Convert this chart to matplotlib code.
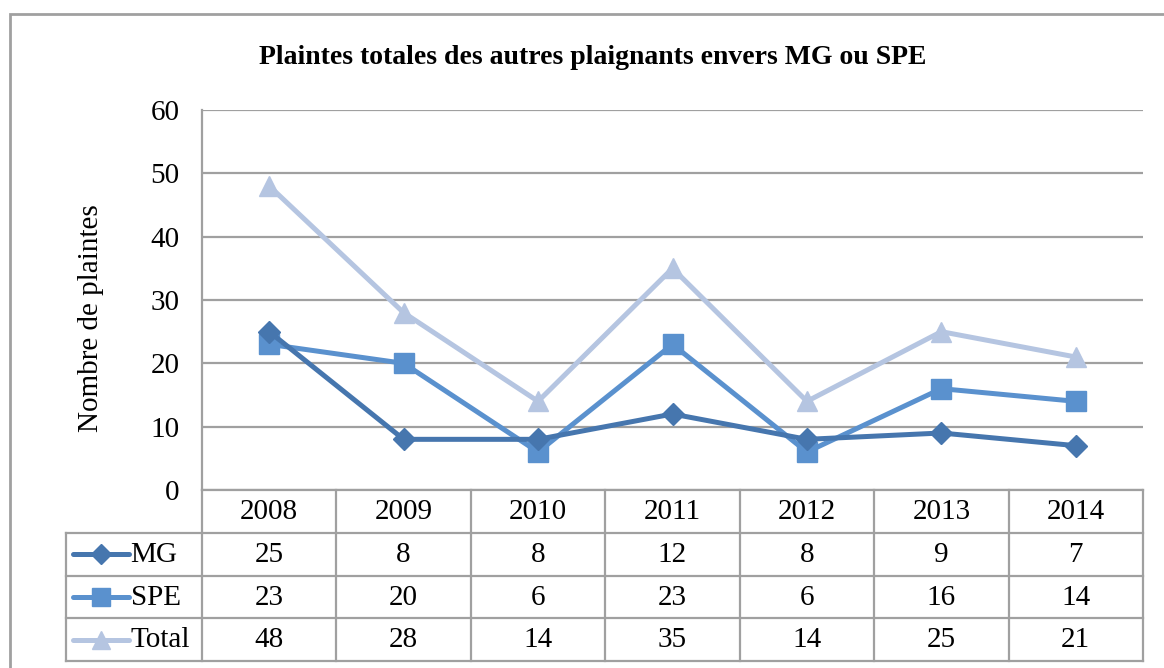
import matplotlib.pyplot as plt
from matplotlib.patches import Rectangle

# -----------------------------
# Data
# -----------------------------
years = ["2008", "2009", "2010", "2011", "2012", "2013", "2014"]
mg = [25, 8, 8, 12, 8, 9, 7]
spe = [23, 20, 6, 23, 6, 16, 14]
total = [48, 28, 14, 35, 14, 25, 21]
series_names = ["MG", "SPE", "Total"]
y_ticks = [0, 10, 20, 30, 40, 50, 60]

TITLE = "Plaintes totales des autres plaignants envers MG ou SPE"
YLABEL = "Nombre de plaintes"

colors = ["#4676AE", "#5A91CE", "#B5C5E1"]
markers = ["D", "s", "^"]
msizes = [11, 14, 14]
GRID = "#A0A0A0"
FS = 21

plt.rcParams["font.family"] = ["Liberation Serif", "DejaVu Serif"]

W, H = 1164, 668
fig = plt.figure(figsize=(W / 100, H / 100), dpi=100)

def fx(px):
    return px / W

def fy(py):
    return 1 - py / H

# outer chart frame (runs off the right and bottom edges)
fig.patches.append(Rectangle((fx(10), fy(700)), fx(1180) - fx(10), fy(14) - fy(700),
                             transform=fig.transFigure, fill=False,
                             edgecolor=GRID, linewidth=2))

# -----------------------------
# Line chart
# -----------------------------
left, right, top, bottom = 202, 1143, 110, 490
ax = fig.add_axes([fx(left), fy(bottom), fx(right) - fx(left), fy(top) - fy(bottom)])
x = list(range(len(years)))
# draw Total first so the darker series sit on top
for vals, c, m, ms in list(zip([mg, spe, total], colors, markers, msizes))[::-1]:
    ax.plot(x, vals, color=c, linewidth=3.6, marker=m, markersize=ms,
            markeredgecolor=c, solid_joinstyle="round", clip_on=False, zorder=3)

ax.set_xlim(-0.5, len(years) - 0.5)
ax.set_ylim(0, 60)
ax.set_yticks(y_ticks)
ax.set_yticklabels([str(t) for t in y_ticks], fontsize=FS)
ax.set_xticks([])
ax.tick_params(axis="y", length=0, pad=16)
for t in y_ticks:
    ax.axhline(t, color=GRID, linewidth=1.6, zorder=1)
for s in ["top", "right", "bottom"]:
    ax.spines[s].set_visible(False)
ax.spines["left"].set_color(GRID)
ax.spines["left"].set_linewidth(1.6)
ax.set_ylabel(YLABEL, fontsize=FS)
ax.yaxis.set_label_coords((104 - left) / (right - left), (bottom - 318) / (bottom - top))

fig.text(fx(593), fy(58), TITLE, ha="center", va="center",
         fontsize=20, fontweight="bold")

# -----------------------------
# Data table
# -----------------------------
col_w = (right - left) / len(years)
leg_w = (left - 66) / col_w
tab = fig.add_axes([fx(66), fy(661), fx(right) - fx(66), fy(bottom) - fy(661)])
tab.set_xlim(-0.5 - leg_w, len(years) - 0.5)
tab.set_ylim(4, 0)
tab.axis("off")

# horizontal lines
tab.plot([-0.5, len(years) - 0.5], [0, 0], color=GRID, lw=1.6, clip_on=False)
for r in [1, 2, 3, 4]:
    tab.plot([-0.5 - leg_w, len(years) - 0.5], [r, r], color=GRID, lw=1.6, clip_on=False)
# vertical lines
tab.plot([-0.5 - leg_w, -0.5 - leg_w], [1, 4], color=GRID, lw=1.6, clip_on=False)
for c in range(len(years) + 1):
    tab.plot([c - 0.5, c - 0.5], [0, 4], color=GRID, lw=1.6, clip_on=False)

for i, yr in enumerate(years):
    tab.text(i, 0.52, yr, ha="center", va="center", fontsize=FS)
for r, (name, vals, c, m, ms) in enumerate(zip(series_names, [mg, spe, total],
                                               colors, markers, msizes), start=1):
    for i, v in enumerate(vals):
        tab.text(i, r + 0.52, str(v), ha="center", va="center", fontsize=FS)
    x0 = -0.5 - leg_w + 0.05
    x1 = x0 + 0.42
    tab.plot([x0, x1], [r + 0.5, r + 0.5], color=c, lw=3.6, solid_capstyle="round")
    tab.plot([(x0 + x1) / 2], [r + 0.5], marker=m, color=c, markersize=ms * 0.95,
             markeredgecolor=c)
    tab.text(x1 + 0.01, r + 0.52, name, ha="left", va="center", fontsize=FS)

fig.savefig("out.png", dpi=100)
